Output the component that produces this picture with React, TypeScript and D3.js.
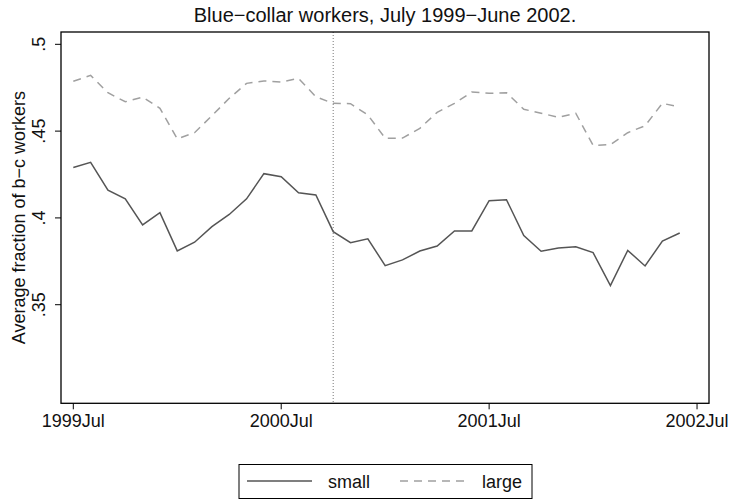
import React from "react";
import * as d3 from "d3";

// Monthly observations, July 1999 through June 2002
const months = [
  "1999-07", "1999-08", "1999-09", "1999-10", "1999-11", "1999-12",
  "2000-01", "2000-02", "2000-03", "2000-04", "2000-05", "2000-06",
  "2000-07", "2000-08", "2000-09", "2000-10", "2000-11", "2000-12",
  "2001-01", "2001-02", "2001-03", "2001-04", "2001-05", "2001-06",
  "2001-07", "2001-08", "2001-09", "2001-10", "2001-11", "2001-12",
  "2002-01", "2002-02", "2002-03", "2002-04", "2002-05", "2002-06",
];

const smallFirms = [
  0.429, 0.432, 0.416, 0.411, 0.396, 0.403,
  0.381, 0.386, 0.395, 0.402, 0.411, 0.4255,
  0.4237, 0.4145, 0.4132, 0.3921, 0.3857, 0.388,
  0.3725, 0.3758, 0.3809, 0.3838, 0.3925, 0.3925,
  0.4099, 0.4105, 0.3898, 0.3808, 0.3827, 0.3834,
  0.38, 0.361, 0.3813, 0.3723, 0.3867, 0.3913,
];

const largeFirms = [
  0.4787, 0.4821, 0.4721, 0.4669, 0.4696, 0.4631,
  0.4456, 0.4491, 0.4589, 0.4689, 0.4775, 0.4789,
  0.4783, 0.4804, 0.4698, 0.466, 0.4658, 0.4593,
  0.4459, 0.446, 0.4516, 0.4608, 0.466, 0.4725,
  0.4718, 0.4721, 0.4626, 0.4603, 0.458, 0.4603,
  0.4418, 0.4422, 0.4491, 0.4531, 0.466, 0.4639,
];

const xTickLabels = ["1999Jul", "2000Jul", "2001Jul", "2002Jul"];
const xTickMonths = [0, 12, 24, 36];
const yTicks = [0.35, 0.4, 0.45, 0.5];
const yTickLabels = [".35", ".4", ".45", ".5"];
const markerMonth = "2000-10";

const W = 732;
const H = 500;
const plot = { left: 61, right: 709, top: 32, bottom: 403.3 };
const FONT = "'Liberation Sans', Arial, Helvetica, sans-serif";
const SOLID = "#555555";
const DASHED = "#a0a0a0";
const TEXT = "#111111";

export default function App() {
  const x = d3.scaleLinear().domain([-0.71, 36.69]).range([plot.left, plot.right]);
  const y = d3.scaleLinear().domain([0.2932, 0.5071]).range([plot.bottom, plot.top]);

  const line = d3
    .line<number>()
    .x((_, i) => x(i))
    .y((d) => y(d));

  const markerX = x(months.indexOf(markerMonth));
  const midX = (plot.left + plot.right) / 2;
  const midY = (plot.top + plot.bottom) / 2;

  return (
    <div style={{ position: "absolute", left: 0, top: 0 }}>
      <svg width={W} height={H} style={{ display: "block", fontFamily: FONT }}>
        <rect x={0} y={0} width={W} height={H} fill="#ffffff" />

        <text x={midX} y={22} textAnchor="middle" fontSize={20} fill={TEXT}>
          Blue−collar workers, July 1999−June 2002.
        </text>

        {/* reference line */}
        <line
          x1={markerX}
          x2={markerX}
          y1={plot.top}
          y2={plot.bottom}
          stroke="#777777"
          strokeWidth={1}
          strokeDasharray="1,2"
        />

        <path d={line(largeFirms) ?? ""} fill="none" stroke={DASHED} strokeWidth={1.5} strokeDasharray="8,6" />
        <path d={line(smallFirms) ?? ""} fill="none" stroke={SOLID} strokeWidth={1.5} />

        {/* frame */}
        <rect
          x={plot.left}
          y={plot.top}
          width={plot.right - plot.left}
          height={plot.bottom - plot.top}
          fill="none"
          stroke="#000"
          strokeWidth={1.3}
        />

        {/* y axis */}
        {yTicks.map((t, i) => (
          <g key={t}>
            <line x1={plot.left - 6} x2={plot.left} y1={y(t)} y2={y(t)} stroke="#000" strokeWidth={1} />
            <text
              transform={`translate(${plot.left - 16},${y(t)}) rotate(-90)`}
              textAnchor="middle"
              fontSize={18}
              fill={TEXT}
            >
              {yTickLabels[i]}
            </text>
          </g>
        ))}
        <text
          transform={`translate(25,${midY}) rotate(-90)`}
          textAnchor="middle"
          fontSize={18}
          fill={TEXT}
        >
          Average fraction of b−c workers
        </text>

        {/* x axis */}
        {xTickMonths.map((m, i) => (
          <g key={m}>
            <line x1={x(m)} x2={x(m)} y1={plot.bottom} y2={plot.bottom + 6} stroke="#000" strokeWidth={1} />
            <text x={x(m)} y={plot.bottom + 24} textAnchor="middle" fontSize={18} fill={TEXT}>
              {xTickLabels[i]}
            </text>
          </g>
        ))}

        {/* legend */}
        <g>
          <rect x={239} y={464.5} width={293} height={34} fill="#fff" stroke="#000" strokeWidth={1} />
          <line x1={247} x2={312} y1={481} y2={481} stroke={SOLID} strokeWidth={1.5} />
          <text x={328} y={488} fontSize={18} fill={TEXT}>small</text>
          <line x1={400} x2={470} y1={481} y2={481} stroke={DASHED} strokeWidth={1.5} strokeDasharray="8,6" />
          <text x={482} y={488} fontSize={18} fill={TEXT}>large</text>
        </g>
      </svg>
    </div>
  );
}
